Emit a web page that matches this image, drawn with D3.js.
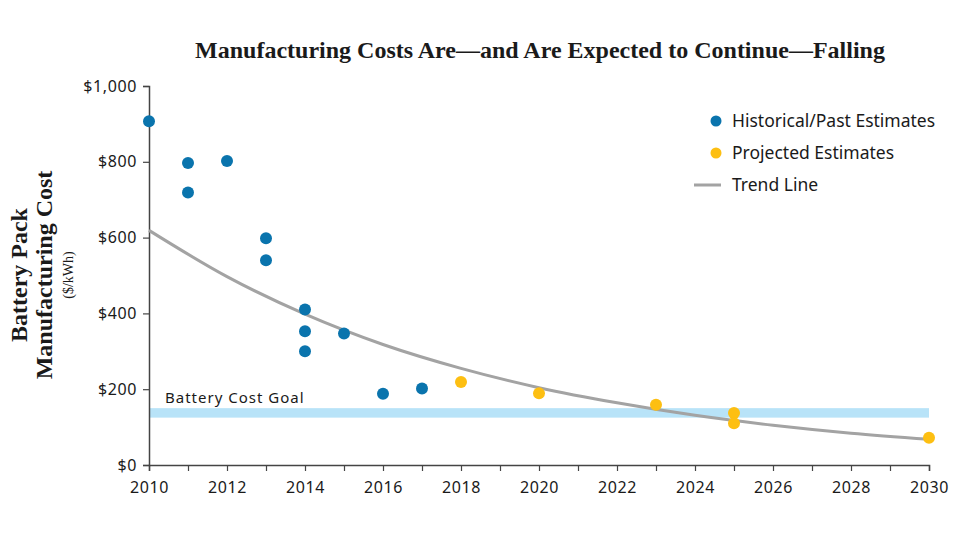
<!DOCTYPE html>
<html>
<head>
<meta charset="utf-8">
<script src="https://cdn.jsdelivr.net/npm/d3@7"></script>
<style>
  body { margin: 0; background: #fff; }
  text { font-family: "Noto Sans", Lato, sans-serif; }
</style>
</head>
<body>
<div id="chart"></div>
<script>
// values
var histYears  = [2010, 2011, 2011, 2012, 2013, 2013, 2014, 2014, 2014, 2015, 2016, 2017];
var histCosts  = [907, 797, 719, 802, 598, 540, 410, 353, 300, 347, 188, 202];
var projYears  = [2018, 2020, 2023, 2025, 2025, 2030];
var projCosts  = [219, 189, 159, 137, 110, 72];
var trendYears = [2010, 2012, 2014, 2016, 2018, 2020, 2022, 2024, 2026, 2028, 2030];
var trendCosts = [619, 497, 398, 318, 255, 204, 164, 131, 105, 84, 68];
var goalRange  = [125, 150];
var yTicks     = [0, 200, 400, 600, 800, 1000];
var xTicks     = d3.range(2010, 2031, 2);

var svgWidth = 960, svgHeight = 543;
var margin = { top: 86, right: 31, bottom: 78, left: 149 };
var width = svgWidth - margin.left - margin.right;
var height = svgHeight - margin.top - margin.bottom;

var svg = d3.select("#chart").append("svg")
  .attr("width", svgWidth)
  .attr("height", svgHeight);

var g = svg.append("g")
  .attr("transform", `translate(${margin.left}, ${margin.top})`);

var x = d3.scaleLinear().domain([2010, 2030]).range([0, width]);
var y = d3.scaleLinear().domain([0, 1000]).range([height, 0]);

// title
svg.append("text")
  .attr("x", 540).attr("y", 58)
  .attr("text-anchor", "middle")
  .style("font-family", "'Liberation Serif', serif")
  .style("font-weight", "bold")
  .style("font-size", "24px")
  .attr("fill", "#1a1a1a")
  .text("Manufacturing Costs Are\u2014and Are Expected to Continue\u2014Falling");

// goal band
g.append("rect")
  .attr("x", 0).attr("width", width)
  .attr("y", y(goalRange[1]))
  .attr("height", y(goalRange[0]) - y(goalRange[1]))
  .attr("fill", "#b8e3f8");

g.append("text")
  .attr("x", 16).attr("y", y(goalRange[1]) - 5)
  .style("font-size", "15px")
  .style("letter-spacing", "1px")
  .attr("fill", "#1a1a1a")
  .text("Battery Cost Goal");

// axes
var xAxis = g.append("g")
  .attr("transform", `translate(0, ${height})`)
  .call(d3.axisBottom(x).tickValues(d3.range(2010, 2031, 1)).tickSize(6)
    .tickFormat(d => xTicks.includes(d) ? d : ""));
var yAxis = g.append("g")
  .call(d3.axisLeft(y).tickValues(yTicks).tickSize(6)
    .tickFormat(d => "$" + d3.format(",")(d)));

[xAxis, yAxis].forEach(function(a) {
  a.select(".domain").attr("stroke", "#444").attr("stroke-width", 1.5);
  a.selectAll(".tick line").attr("stroke", "#444").attr("stroke-width", 1.2);
  a.selectAll(".tick text")
    .style("font-family", "'Noto Sans', Lato, sans-serif")
    .style("font-size", "16px")
    .style("letter-spacing", "0.6px")
    .attr("fill", "#1a1a1a");
});
xAxis.selectAll(".tick text").attr("dy", "1.2em");
yAxis.selectAll(".tick text").attr("x", -12);

// trend line
var trend = trendYears.map((d, i) => [d, trendCosts[i]]);
g.append("path")
  .datum(trend)
  .attr("fill", "none")
  .attr("stroke", "#a3a3a3")
  .attr("stroke-width", 3)
  .attr("d", d3.line().x(d => x(d[0])).y(d => y(d[1])).curve(d3.curveMonotoneX));

// points
g.selectAll("circle.hist")
  .data(histYears.map((d, i) => [d, histCosts[i]]))
  .enter().append("circle")
  .attr("class", "hist")
  .attr("cx", d => x(d[0])).attr("cy", d => y(d[1]))
  .attr("r", 6)
  .attr("fill", "#0a74ad");

g.selectAll("circle.proj")
  .data(projYears.map((d, i) => [d, projCosts[i]]))
  .enter().append("circle")
  .attr("class", "proj")
  .attr("cx", d => x(d[0])).attr("cy", d => y(d[1]))
  .attr("r", 6)
  .attr("fill", "#fdbf12");

// legend
var legend = svg.append("g").attr("transform", "translate(716, 0)");
var legendItems = [
  { label: "Historical/Past Estimates", color: "#0a74ad", y: 121, type: "dot" },
  { label: "Projected Estimates", color: "#fdbf12", y: 153, type: "dot" },
  { label: "Trend Line", color: "#a3a3a3", y: 185, type: "line" }
];
legendItems.forEach(function(item) {
  if (item.type === "dot") {
    legend.append("circle").attr("cx", 0).attr("cy", item.y).attr("r", 5.5).attr("fill", item.color);
  } else {
    legend.append("line").attr("x1", -22).attr("x2", 5).attr("y1", item.y).attr("y2", item.y)
      .attr("stroke", item.color).attr("stroke-width", 3);
  }
  legend.append("text")
    .attr("x", 16).attr("y", item.y + 6)
    .style("font-size", "17.5px")
    .attr("fill", "#1a1a1a")
    .text(item.label);
});

// y axis title
var yTitle = svg.append("g").attr("transform", "translate(0, 275) rotate(-90)");
yTitle.append("text")
  .attr("x", 0).attr("y", 27)
  .attr("text-anchor", "middle")
  .style("font-family", "'Liberation Serif', serif")
  .style("font-weight", "bold")
  .style("font-size", "24px")
  .attr("fill", "#1a1a1a")
  .text("Battery Pack");
yTitle.append("text")
  .attr("x", 0).attr("y", 52)
  .attr("text-anchor", "middle")
  .style("font-family", "'Liberation Serif', serif")
  .style("font-weight", "bold")
  .style("font-size", "24px")
  .attr("fill", "#1a1a1a")
  .text("Manufacturing Cost");
yTitle.append("text")
  .attr("x", 0).attr("y", 73)
  .attr("text-anchor", "middle")
  .style("font-family", "'Liberation Serif', serif")
  .style("font-size", "14px")
  .attr("fill", "#1a1a1a")
  .text("($/kWh)");
</script>
</body>
</html>
